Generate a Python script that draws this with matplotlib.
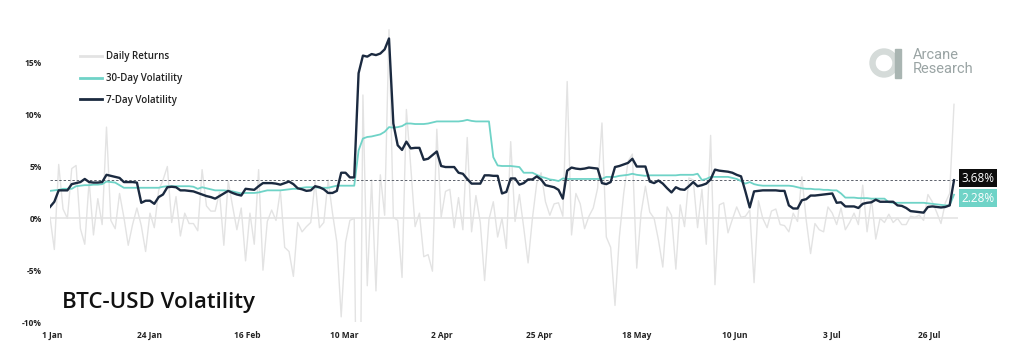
import matplotlib.pyplot as plt
import numpy as np
from matplotlib.patches import Wedge, Rectangle

plt.rcParams['font.family'] = ['Open Sans', 'DejaVu Sans']

# BTC-USD daily returns in %, 1 Jan - 27 Jul 2020
returns_jan = [0.1, -3.0, 5.2, 0.9, 0.0, 4.8, 5.1, -1.0, -2.5, 3.6, -1.6, 1.9, -0.6, 8.8, -0.2, -1.0,
               2.4, 0.1, -2.6, -0.6, 1.0, -0.7, -3.2, 0.5, -0.9, 2.7, 3.7, 5.0, -0.4, 2.1, -1.7]
returns_feb = [0.5, -0.5, -0.5, -1.2, 4.7, 1.2, 0.7, 0.7, 2.5, -2.6, 3.6, 1.2, -1.1, 1.0, -4.1,
               0.5, -2.5, 4.7, -5.0, -0.3, 0.8, -0.2, 2.7, -2.8, -3.2, -5.6, -0.4, -1.3, -0.8]
returns_mar = [-0.4, 3.6, -0.9, -0.4, 3.7, 0.5, -2.3, -9.5, -2.3, -0.2, 0.0, -37.2, 11.9, -6.5, 3.7, -7.0,
               4.2, 0.3, 18.2, 0.1, -0.2, -5.7, 10.5, 5.0, -0.8, 0.5, -3.7, -3.5, -5.1, 8.6, 0.1]
returns_apr = [2.6, 2.8, -0.9, 2.0, -1.1, 7.8, -1.3, 2.2, -0.4, -6.0, -0.1, 1.6, -1.8, 0.0, -2.9,
               7.4, -0.3, 2.3, -0.9, -4.3, 0.0, 3.4, 4.4, 1.6, 0.3, 1.4, 1.5, 0.2, 13.2, -1.6]
returns_may = [2.4, 1.4, -1.0, 0.2, 1.0, 2.9, 9.2, -1.8, -2.8, -8.4, -1.8, 2.4, 5.5, 6.2, -4.8, 0.5,
               3.1, 0.6, 0.0, -2.1, -4.7, 1.1, 0.3, -4.9, 1.3, -0.8, 3.9, 3.7, -0.9, 2.8, -2.5]
returns_jun = [8.0, -6.4, 1.3, 1.5, -1.4, -0.1, 1.1, 0.1, 0.2, 0.8, -6.2, 1.7, 0.0, -0.9, 0.7,
               0.9, -0.6, -0.7, -1.3, 0.5, -0.3, 4.0, -0.2, -3.4, -0.5, -1.1, -1.3, 1.1, 0.5, -0.6]
returns_jul = [1.0, -1.1, -0.4, 0.5, -0.6, 3.2, -1.3, 1.9, -2.0, 0.0, -0.4, 0.4, -0.4, 0.0,
               -0.6, -0.6, 0.2, 0.1, 0.3, -0.2, 2.3, 1.6, 0.6, -0.5, 1.5, 2.4, 11.0]
daily_returns = returns_jan + returns_feb + returns_mar + returns_apr + returns_may + returns_jun + returns_jul

vol_30d = [2.65, 2.7, 2.75, 2.85, 2.85, 2.85, 3.1, 3.15, 3.2, 3.2,
           3.25, 3.25, 3.3, 3.55, 3.5, 3.45, 3.2, 2.95, 2.95, 2.95,
           2.95, 2.95, 2.95, 2.95, 2.95, 2.95, 3.05, 3.1, 3.1, 3.1,
           3.1, 3.1, 3.1, 3.05, 2.85, 3.0, 2.9, 2.8, 2.7, 2.7,
           2.7, 2.65, 2.6, 2.5, 2.4, 2.45, 2.45, 2.45, 2.5, 2.6,
           2.7, 2.7, 2.7, 2.7, 2.75, 2.8, 2.85, 2.85, 2.95, 3.0,
           3.0, 3.0, 2.95, 2.95, 2.95, 3.05, 3.15, 3.15, 3.15, 3.15,
           3.15, 6.55, 7.7, 7.85, 7.9, 8.0, 8.1, 8.35, 8.8, 8.75,
           8.8, 8.9, 9.15, 9.15, 9.1, 9.1, 9.1, 9.15, 9.25, 9.35,
           9.35, 9.35, 9.35, 9.35, 9.35, 9.4, 9.5, 9.4, 9.35, 9.35,
           9.35, 9.35, 5.9, 5.1, 5.05, 5.05, 5.05, 5.0, 4.95, 4.4,
           4.4, 4.4, 4.2, 4.0, 3.9, 3.75, 3.7, 3.6, 3.85, 3.8,
           3.8, 3.8, 3.8, 3.8, 3.8, 3.8, 3.8, 3.8, 4.0, 4.0,
           4.0, 4.1, 4.15, 4.2, 4.3, 4.2, 4.15, 4.1, 4.15, 4.15,
           4.15, 4.15, 4.15, 4.15, 4.15, 4.2, 4.2, 4.2, 4.2, 4.3,
           3.7, 3.8, 4.0, 4.0, 4.0, 4.0, 4.0, 3.9, 3.8, 3.6,
           3.35, 3.5, 3.3, 3.2, 3.15, 3.15, 3.15, 3.15, 3.15, 3.15,
           3.15, 3.1, 3.0, 2.9, 2.85, 2.85, 2.8, 2.8, 2.75, 2.75,
           2.7, 2.7, 2.4, 2.0, 2.0, 2.0, 1.95, 1.95, 1.95, 1.9,
           1.9, 1.9, 1.9, 1.55, 1.5, 1.5, 1.5, 1.5, 1.5, 1.5,
           1.5, 1.5, 1.45, 1.4, 1.35, 1.3, 1.25, 1.25, 2.28]

vol_7d = [1.1, 1.6, 2.7, 2.7, 2.7, 3.3, 3.4, 3.5, 3.8, 3.5,
          3.45, 3.45, 3.5, 4.2, 4.1, 4.0, 3.9, 3.5, 3.5, 3.5,
          3.45, 1.5, 1.7, 1.7, 1.4, 2.05, 2.3, 3.0, 3.05, 3.0,
          2.7, 2.7, 2.65, 2.6, 2.45, 2.3, 2.15, 2.05, 1.9, 2.15,
          2.4, 2.65, 2.45, 2.3, 2.2, 2.85, 2.8, 2.75, 3.1, 3.4,
          3.4, 3.4, 3.35, 3.25, 3.4, 3.55, 3.3, 2.9, 2.8, 2.65,
          2.7, 3.1, 3.0, 2.8, 2.45, 2.45, 2.65, 4.4, 4.4, 3.95,
          3.95, 14.0, 15.7, 15.6, 15.85, 15.75, 15.9, 16.3, 17.35, 9.15,
          7.05, 6.6, 7.4, 6.75, 6.8, 6.8, 5.65, 5.75, 6.1, 6.45,
          5.05, 4.95, 4.95, 4.95, 4.4, 4.3, 3.8, 3.35, 3.35, 3.35,
          4.15, 4.15, 4.1, 4.1, 2.4, 2.55, 3.85, 3.85, 3.25, 3.4,
          3.75, 3.75, 4.05, 3.75, 3.2, 3.1, 3.0, 2.75, 1.9, 4.6,
          4.9, 4.8, 4.75, 4.8, 4.9, 4.85, 4.8, 3.4, 3.3, 3.5,
          4.95, 5.05, 5.2, 5.35, 5.75, 5.0, 5.0, 5.0, 3.55, 3.4,
          3.65, 3.35, 2.9, 2.5, 3.0, 2.8, 2.75, 3.1, 3.5, 3.1,
          3.2, 3.35, 3.75, 4.7, 4.6, 4.55, 4.5, 4.4, 4.2, 4.05,
          2.6, 1.05, 2.6, 2.65, 2.7, 2.7, 2.7, 2.7, 2.65, 2.65,
          1.25, 0.95, 0.95, 1.75, 1.85, 2.2, 2.2, 2.25, 2.3, 2.35,
          2.4, 1.5, 1.55, 1.15, 1.15, 1.15, 1.0, 1.4, 1.5, 1.55,
          1.8, 1.6, 1.6, 1.6, 1.6, 1.25, 1.2, 1.0, 0.7, 0.65,
          0.6, 0.55, 1.1, 1.15, 1.1, 1.05, 1.1, 1.25, 3.68]

date_labels = ["1 Jan", "24 Jan", "16 Feb", "10 Mar", "2 Apr", "25 Apr", "18 May", "10 Jun", "3 Jul", "26 Jul"]
y_ticks = [-10, -5, 0, 5, 10, 15]

grey = '#e3e3e3'
teal = '#6fd3c7'
navy = '#1b2a40'
label_col = '#222222'

fig = plt.figure(figsize=(10.24, 3.52), dpi=100)
ax = fig.add_axes([50 / 1024, 30 / 352, 908 / 1024, 300.6 / 352])

ax.axhline(0, color='#e6e6e6', lw=1.3, zorder=1)
ax.plot(np.arange(len(daily_returns)), daily_returns, color=grey, lw=1.0, label='Daily Returns', zorder=2)
ax.axhline(vol_7d[-1], color='#5c616b', lw=0.7, ls=(0, (2.5, 2)), zorder=2.5)
ax.plot(np.arange(len(vol_30d)), vol_30d, color=teal, lw=1.3, label='30-Day Volatility', zorder=3)
ax.plot(np.arange(len(vol_7d)), vol_7d, color=navy, lw=1.7, label='7-Day Volatility', zorder=4)

n = len(daily_returns)
ax.set_xlim(0, n - 1 + 0.92)
ax.set_ylim(-10, 19)
ax.set_xticks(0.5 + 22.43 * np.arange(len(date_labels)), date_labels)
ax.set_yticks(y_ticks, [f"{t}%" for t in y_ticks])
for s in ax.spines.values():
    s.set_visible(False)
ax.tick_params(axis='both', length=0, labelsize=6, labelcolor=label_col)
ax.tick_params(axis='y', pad=5.8)
ax.tick_params(axis='x', pad=6.5)
for lab in ax.get_xticklabels() + ax.get_yticklabels():
    lab.set_fontweight('bold')

leg = ax.legend(loc='upper left', bbox_to_anchor=(80 / 1024, 1 - 51.5 / 352), bbox_transform=fig.transFigure,
                frameon=False, prop={'weight': 'semibold', 'size': 7}, handlelength=2.3,
                handletextpad=0.35, labelspacing=1.1, borderpad=0, borderaxespad=0)
for line in leg.get_lines():
    line.set_linewidth(2.0)
for t in leg.get_texts():
    t.set_color(label_col)

# end-of-series value tags
ax.annotate(f"{vol_7d[-1]:.2f}%", xy=(1, vol_7d[-1]), xycoords=('axes fraction', 'data'),
            xytext=(2.6, 1.5), textcoords='offset points', ha='left', va='center',
            fontsize=8.5, color='white', annotation_clip=False,
            bbox=dict(boxstyle='square,pad=0.22', fc='#0d0d0d', ec='none'))
ax.annotate(f"{vol_30d[-1]:.2f}%", xy=(1, vol_30d[-1]), xycoords=('axes fraction', 'data'),
            xytext=(2.6, -2.4), textcoords='offset points', ha='left', va='center',
            fontsize=8.5, color='white', annotation_clip=False,
            bbox=dict(boxstyle='square,pad=0.22', fc=teal, ec='none'))

fig.text(62 / 1024, 1 - 308 / 352, 'BTC-USD Volatility', fontsize=16, fontweight='semibold',
         color='#111111', va='baseline')

# logo
lx = fig.add_axes([0, 0, 1, 1])
lx.set_xlim(0, 1024)
lx.set_ylim(352, 0)
lx.axis('off')
lx.add_patch(Wedge((884, 63), 14, 0, 360, width=5, color='#d5dbd9'))
lx.add_patch(Rectangle((895, 49), 6, 29, color='#a9b5b2'))
lx.text(913, 55, 'Arcane', fontsize=10.5, family='Roboto', color='#9aa4a4', va='center')
lx.text(913, 69, 'Research', fontsize=10.5, family='Roboto', color='#9aa4a4', va='center')

fig.savefig('out.png', dpi=100)
